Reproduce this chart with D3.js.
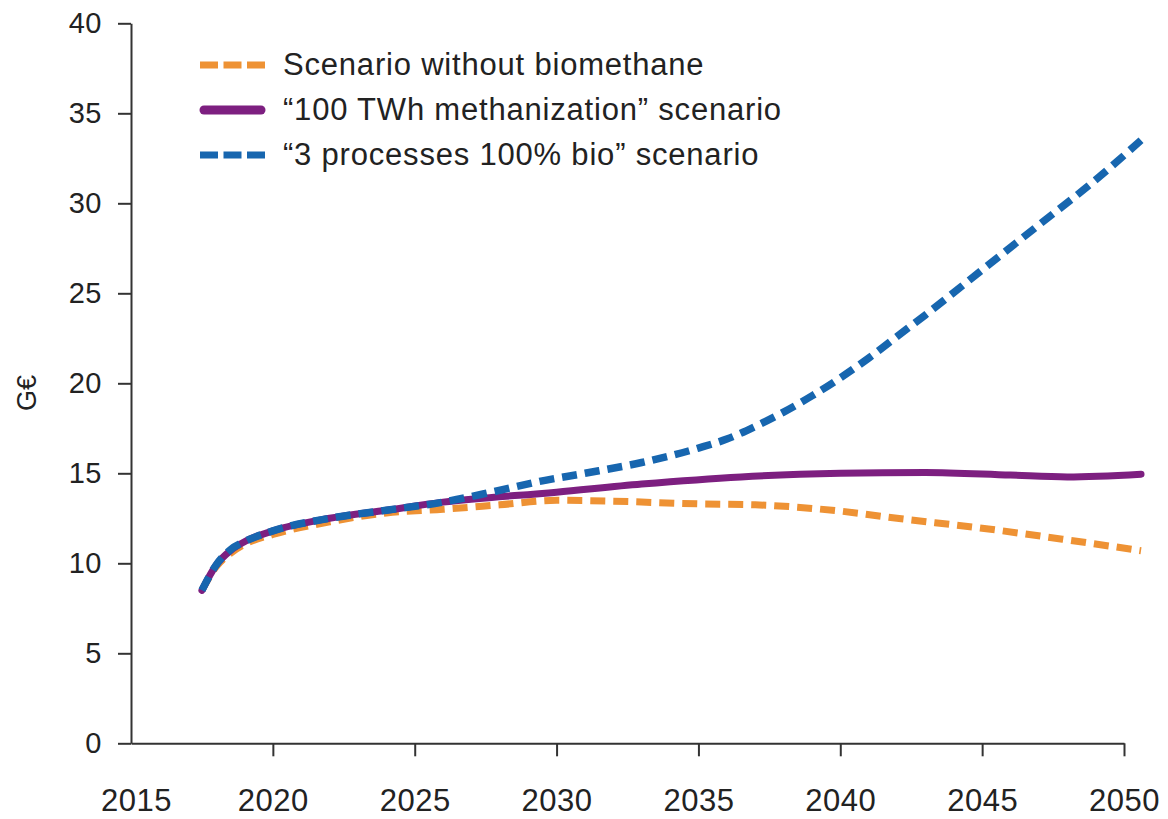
<!DOCTYPE html>
<html>
<head>
<meta charset="utf-8">
<script src="https://cdn.jsdelivr.net/npm/d3@7"></script>
<style>
  html, body { margin: 0; padding: 0; background: #fff; }
  svg { display: block; }
  text { font-family: "Liberation Sans", Arial, Helvetica, sans-serif; fill: #222; }
</style>
</head>
<body>
<svg id="chart" width="1168" height="819"></svg>
<script>
// ---- data ----
const seriesNames = [
  "Scenario without biomethane",
  "\u201C100 TWh methanization\u201D scenario",
  "\u201C3 processes 100% bio\u201D scenario"
];
const yearsOrange = [2017.5, 2018, 2018.5, 2019, 2020, 2022, 2024, 2026, 2028, 2030, 2032, 2035, 2037, 2039, 2040, 2042, 2045, 2048, 2050.6];
const valuesOrange = [8.5, 9.8, 10.55, 11.05, 11.6, 12.3, 12.8, 13.0, 13.25, 13.5, 13.45, 13.3, 13.25, 13.05, 12.9, 12.5, 11.95, 11.3, 10.7];
const yearsPurple = [2017.5, 2018, 2018.5, 2019, 2020, 2022, 2024, 2026, 2030, 2033, 2036.5, 2040, 2043, 2046, 2048, 2050.6];
const valuesPurple = [8.5, 9.9, 10.7, 11.2, 11.8, 12.5, 12.95, 13.4, 13.95, 14.4, 14.8, 15.0, 15.05, 14.9, 14.8, 14.95];
const yearsBlue = [2017.5, 2018, 2018.5, 2019, 2020, 2022, 2024, 2026, 2027.7, 2029.4, 2031, 2033, 2035, 2036, 2037, 2038, 2039, 2040, 2041, 2042, 2043, 2045, 2047, 2049, 2050.6];
const valuesBlue = [8.5, 9.9, 10.75, 11.2, 11.8, 12.5, 12.95, 13.4, 13.95, 14.55, 15.0, 15.6, 16.4, 16.9, 17.6, 18.4, 19.3, 20.3, 21.4, 22.6, 23.8, 26.3, 28.8, 31.3, 33.5];
const xTicks = [2015, 2020, 2025, 2030, 2035, 2040, 2045, 2050];
const yTicks = [0, 5, 10, 15, 20, 25, 30, 35, 40];
const yLabel = "G\u20AC";
const colors = ["#EE9234", "#7D1F80", "#1766AF"];

// ---- layout ----
const svg = d3.select("#chart");
const x = d3.scaleLinear().domain([2015, 2050]).range([131, 1124]);
const y = d3.scaleLinear().domain([0, 40]).range([743.3, 23.3]);

// axes
const xAxis = svg.append("g").attr("transform", `translate(0,${y(0)})`)
  .call(d3.axisBottom(x).tickValues(xTicks).tickFormat(d3.format("d")).tickSize(13).tickSizeOuter(0).tickPadding(33));
const yAxis = svg.append("g").attr("transform", `translate(${x(2015)},0)`)
  .call(d3.axisLeft(y).tickValues(yTicks).tickSize(13).tickSizeOuter(0).tickPadding(16));

[xAxis, yAxis].forEach(g => {
  g.select(".domain").attr("stroke", "#333").attr("stroke-width", 2);
  g.selectAll(".tick line").attr("stroke", "#333").attr("stroke-width", 2);
  g.selectAll(".tick text").attr("fill", "#222").attr("font-family", "Liberation Sans, Arial, sans-serif");
});
xAxis.selectAll(".tick text").attr("font-size", 31).attr("letter-spacing", 0.5);
yAxis.selectAll(".tick text").attr("font-size", 29).attr("letter-spacing", 0.5);
// hide 2015 tick mark (coincides with y axis), keep label
xAxis.selectAll(".tick").filter(d => d === 2015).select("line").remove();
xAxis.selectAll(".tick").filter(d => d === 2015).select("text").attr("dx", 5);

// y label
svg.append("text")
  .attr("transform", `translate(27,393) rotate(-90)`)
  .attr("text-anchor", "middle")
  .attr("dominant-baseline", "central")
  .attr("font-size", 27)
  .text(yLabel);

// lines
const line = d3.line().x(d => x(d[0])).y(d => y(d[1])).curve(d3.curveMonotoneX);
const series = [
  { pts: d3.zip(yearsOrange, valuesOrange), color: colors[0], dash: "15,8", w: 7 },
  { pts: d3.zip(yearsPurple, valuesPurple), color: colors[1], dash: null, w: 7 },
  { pts: d3.zip(yearsBlue, valuesBlue), color: colors[2], dash: "15,8", w: 7.5 }
];
series.forEach(s => {
  svg.append("path")
    .attr("d", line(s.pts))
    .attr("fill", "none")
    .attr("stroke", s.color)
    .attr("stroke-width", s.w)
    .attr("stroke-linecap", s.dash ? "butt" : "round")
    .attr("stroke-dasharray", s.dash);
});

// legend
const legendRows = [65, 110, 155];
seriesNames.forEach((name, i) => {
  const g = svg.append("g");
  g.append("line")
    .attr("x1", i === 1 ? 204 : 200).attr("x2", i === 1 ? 261 : 265)
    .attr("y1", legendRows[i]).attr("y2", legendRows[i])
    .attr("stroke", colors[i])
    .attr("stroke-width", i === 1 ? 9 : 7)
    .attr("stroke-linecap", i === 1 ? "round" : "butt")
    .attr("stroke-dasharray", i === 1 ? null : "18,5.5");
  g.append("text")
    .attr("x", 283).attr("y", legendRows[i] + 10)
    .attr("font-size", 31)
    .attr("letter-spacing", 0.8)
    .text(name);
});
</script>
</body>
</html>
